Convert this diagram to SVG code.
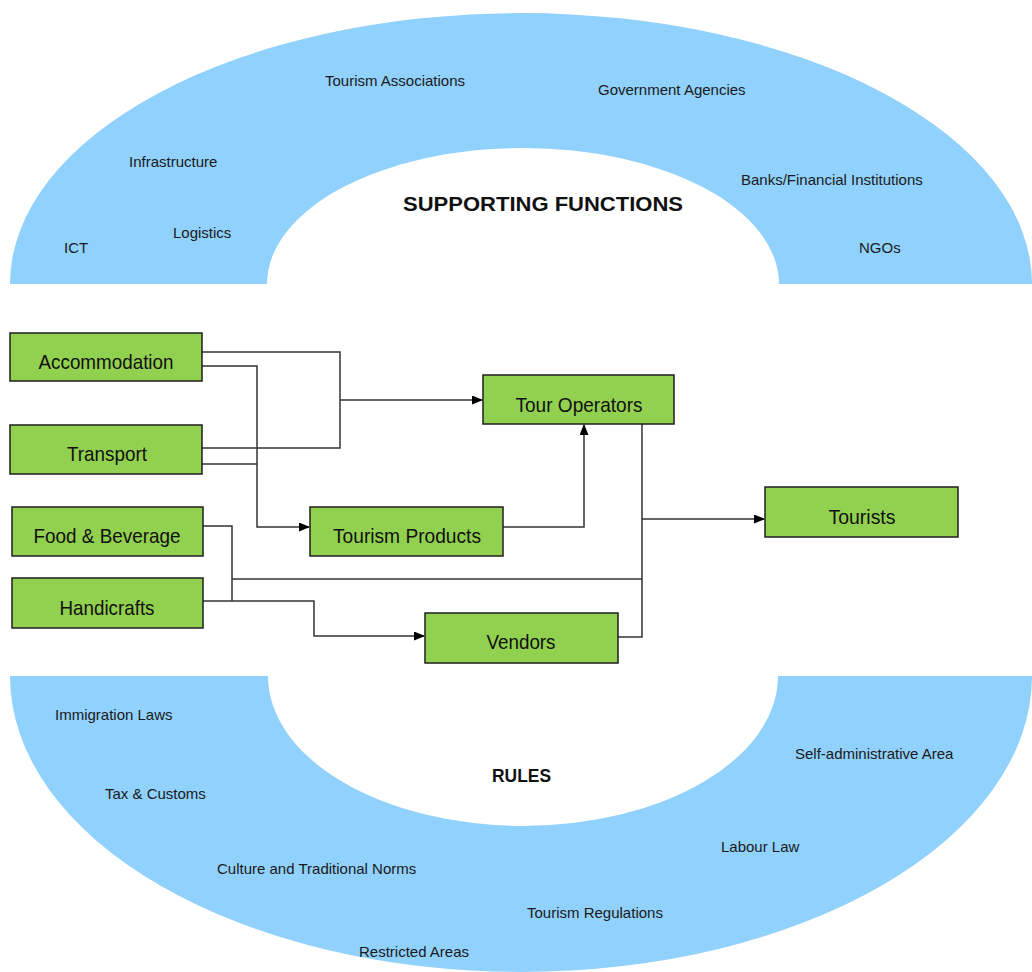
<svg xmlns="http://www.w3.org/2000/svg" width="1032" height="972" viewBox="0 0 1032 972">
  <style>
    .band { fill: #90D1FD; stroke: none; }
    .node rect { fill: #92D050; stroke: #1e1e1e; stroke-width: 1.5; }
    .node text { font-family: "Liberation Sans", Arial, sans-serif; font-size: 21px; fill: #111; text-anchor: middle; }
    .item { font-family: "Liberation Sans", Arial, sans-serif; font-size: 15px; fill: #1a1a1a; }
    .title { font-family: "Liberation Sans", Arial, sans-serif; font-weight: bold; fill: #111; }
    .link { fill: none; stroke: #333; stroke-width: 1.5; }
    .link.arrow { marker-end: url(#head); }
  </style>
  <defs>
    <marker id="head" markerUnits="userSpaceOnUse" markerWidth="11" markerHeight="10" refX="10" refY="4.5" orient="auto">
      <path d="M0,0 L11,4.5 L0,9 Z" fill="#000"/>
    </marker>
  </defs>
  <rect width="1032" height="972" fill="#fff"/>

  <!-- Supporting functions band -->
  <g id="supporting-functions">
    <path class="band" d="M10,284 A511,271 0 0 1 1032,284 L779,284 A256,136 0 0 0 267,284 Z"/>
    <text class="title" x="403" y="211" font-size="20" textLength="280" lengthAdjust="spacingAndGlyphs">SUPPORTING FUNCTIONS</text>
    <text class="item" x="325" y="86">Tourism Associations</text>
    <text class="item" x="598" y="95">Government Agencies</text>
    <text class="item" x="129" y="167">Infrastructure</text>
    <text class="item" x="741" y="185">Banks/Financial Institutions</text>
    <text class="item" x="173" y="238">Logistics</text>
    <text class="item" x="64" y="253">ICT</text>
    <text class="item" x="859" y="253">NGOs</text>
  </g>

  <!-- Rules band -->
  <g id="rules">
    <path class="band" d="M10,676 A511,296 0 0 0 1032,676 L778,676 A255,150 0 0 1 268,676 Z"/>
    <text class="title" x="492" y="782" font-size="18" textLength="59" lengthAdjust="spacingAndGlyphs">RULES</text>
    <text class="item" x="55" y="720">Immigration Laws</text>
    <text class="item" x="795" y="759">Self-administrative Area</text>
    <text class="item" x="105" y="799">Tax &amp; Customs</text>
    <text class="item" x="721" y="852">Labour Law</text>
    <text class="item" x="217" y="874">Culture and Traditional Norms</text>
    <text class="item" x="527" y="918">Tourism Regulations</text>
    <text class="item" x="359" y="957">Restricted Areas</text>
  </g>

  <!-- Connectors -->
  <g id="connectors">
    <path class="link" d="M202,352 H340 V448 H202"/>
    <path class="link arrow" d="M340,400 H482"/>
    <path class="link arrow" d="M202,366 H257 V527 H309"/>
    <path class="link" d="M202,464 H257"/>
    <path class="link arrow" d="M503,527 H584 V425"/>
    <path class="link" d="M642,424 V637 H618"/>
    <path class="link arrow" d="M642,519 H764"/>
    <path class="link" d="M232,579 H642"/>
    <path class="link" d="M203,526 H232 V601"/>
    <path class="link arrow" d="M203,601 H314 V636 H424"/>
  </g>

  <!-- Nodes -->
  <g id="accommodation" class="node">
    <rect x="10" y="333" width="192" height="48"/>
    <text x="106" y="369" textLength="135" lengthAdjust="spacingAndGlyphs">Accommodation</text>
  </g>
  <g id="transport" class="node">
    <rect x="10" y="425" width="192" height="49"/>
    <text x="107" y="461" textLength="80" lengthAdjust="spacingAndGlyphs">Transport</text>
  </g>
  <g id="food-beverage" class="node">
    <rect x="12" y="507" width="191" height="49"/>
    <text x="107" y="543" textLength="147" lengthAdjust="spacingAndGlyphs">Food &amp; Beverage</text>
  </g>
  <g id="handicrafts" class="node">
    <rect x="12" y="578" width="191" height="50"/>
    <text x="107" y="615" textLength="95" lengthAdjust="spacingAndGlyphs">Handicrafts</text>
  </g>
  <g id="tourism-products" class="node">
    <rect x="310" y="507" width="193" height="49"/>
    <text x="407" y="543" textLength="148" lengthAdjust="spacingAndGlyphs">Tourism Products</text>
  </g>
  <g id="tour-operators" class="node">
    <rect x="483" y="375" width="191" height="49"/>
    <text x="579" y="412" textLength="127" lengthAdjust="spacingAndGlyphs">Tour Operators</text>
  </g>
  <g id="tourists" class="node">
    <rect x="765" y="487" width="193" height="50"/>
    <text x="862" y="524" textLength="67" lengthAdjust="spacingAndGlyphs">Tourists</text>
  </g>
  <g id="vendors" class="node">
    <rect x="425" y="613" width="193" height="50"/>
    <text x="521" y="649" textLength="69" lengthAdjust="spacingAndGlyphs">Vendors</text>
  </g>
</svg>
